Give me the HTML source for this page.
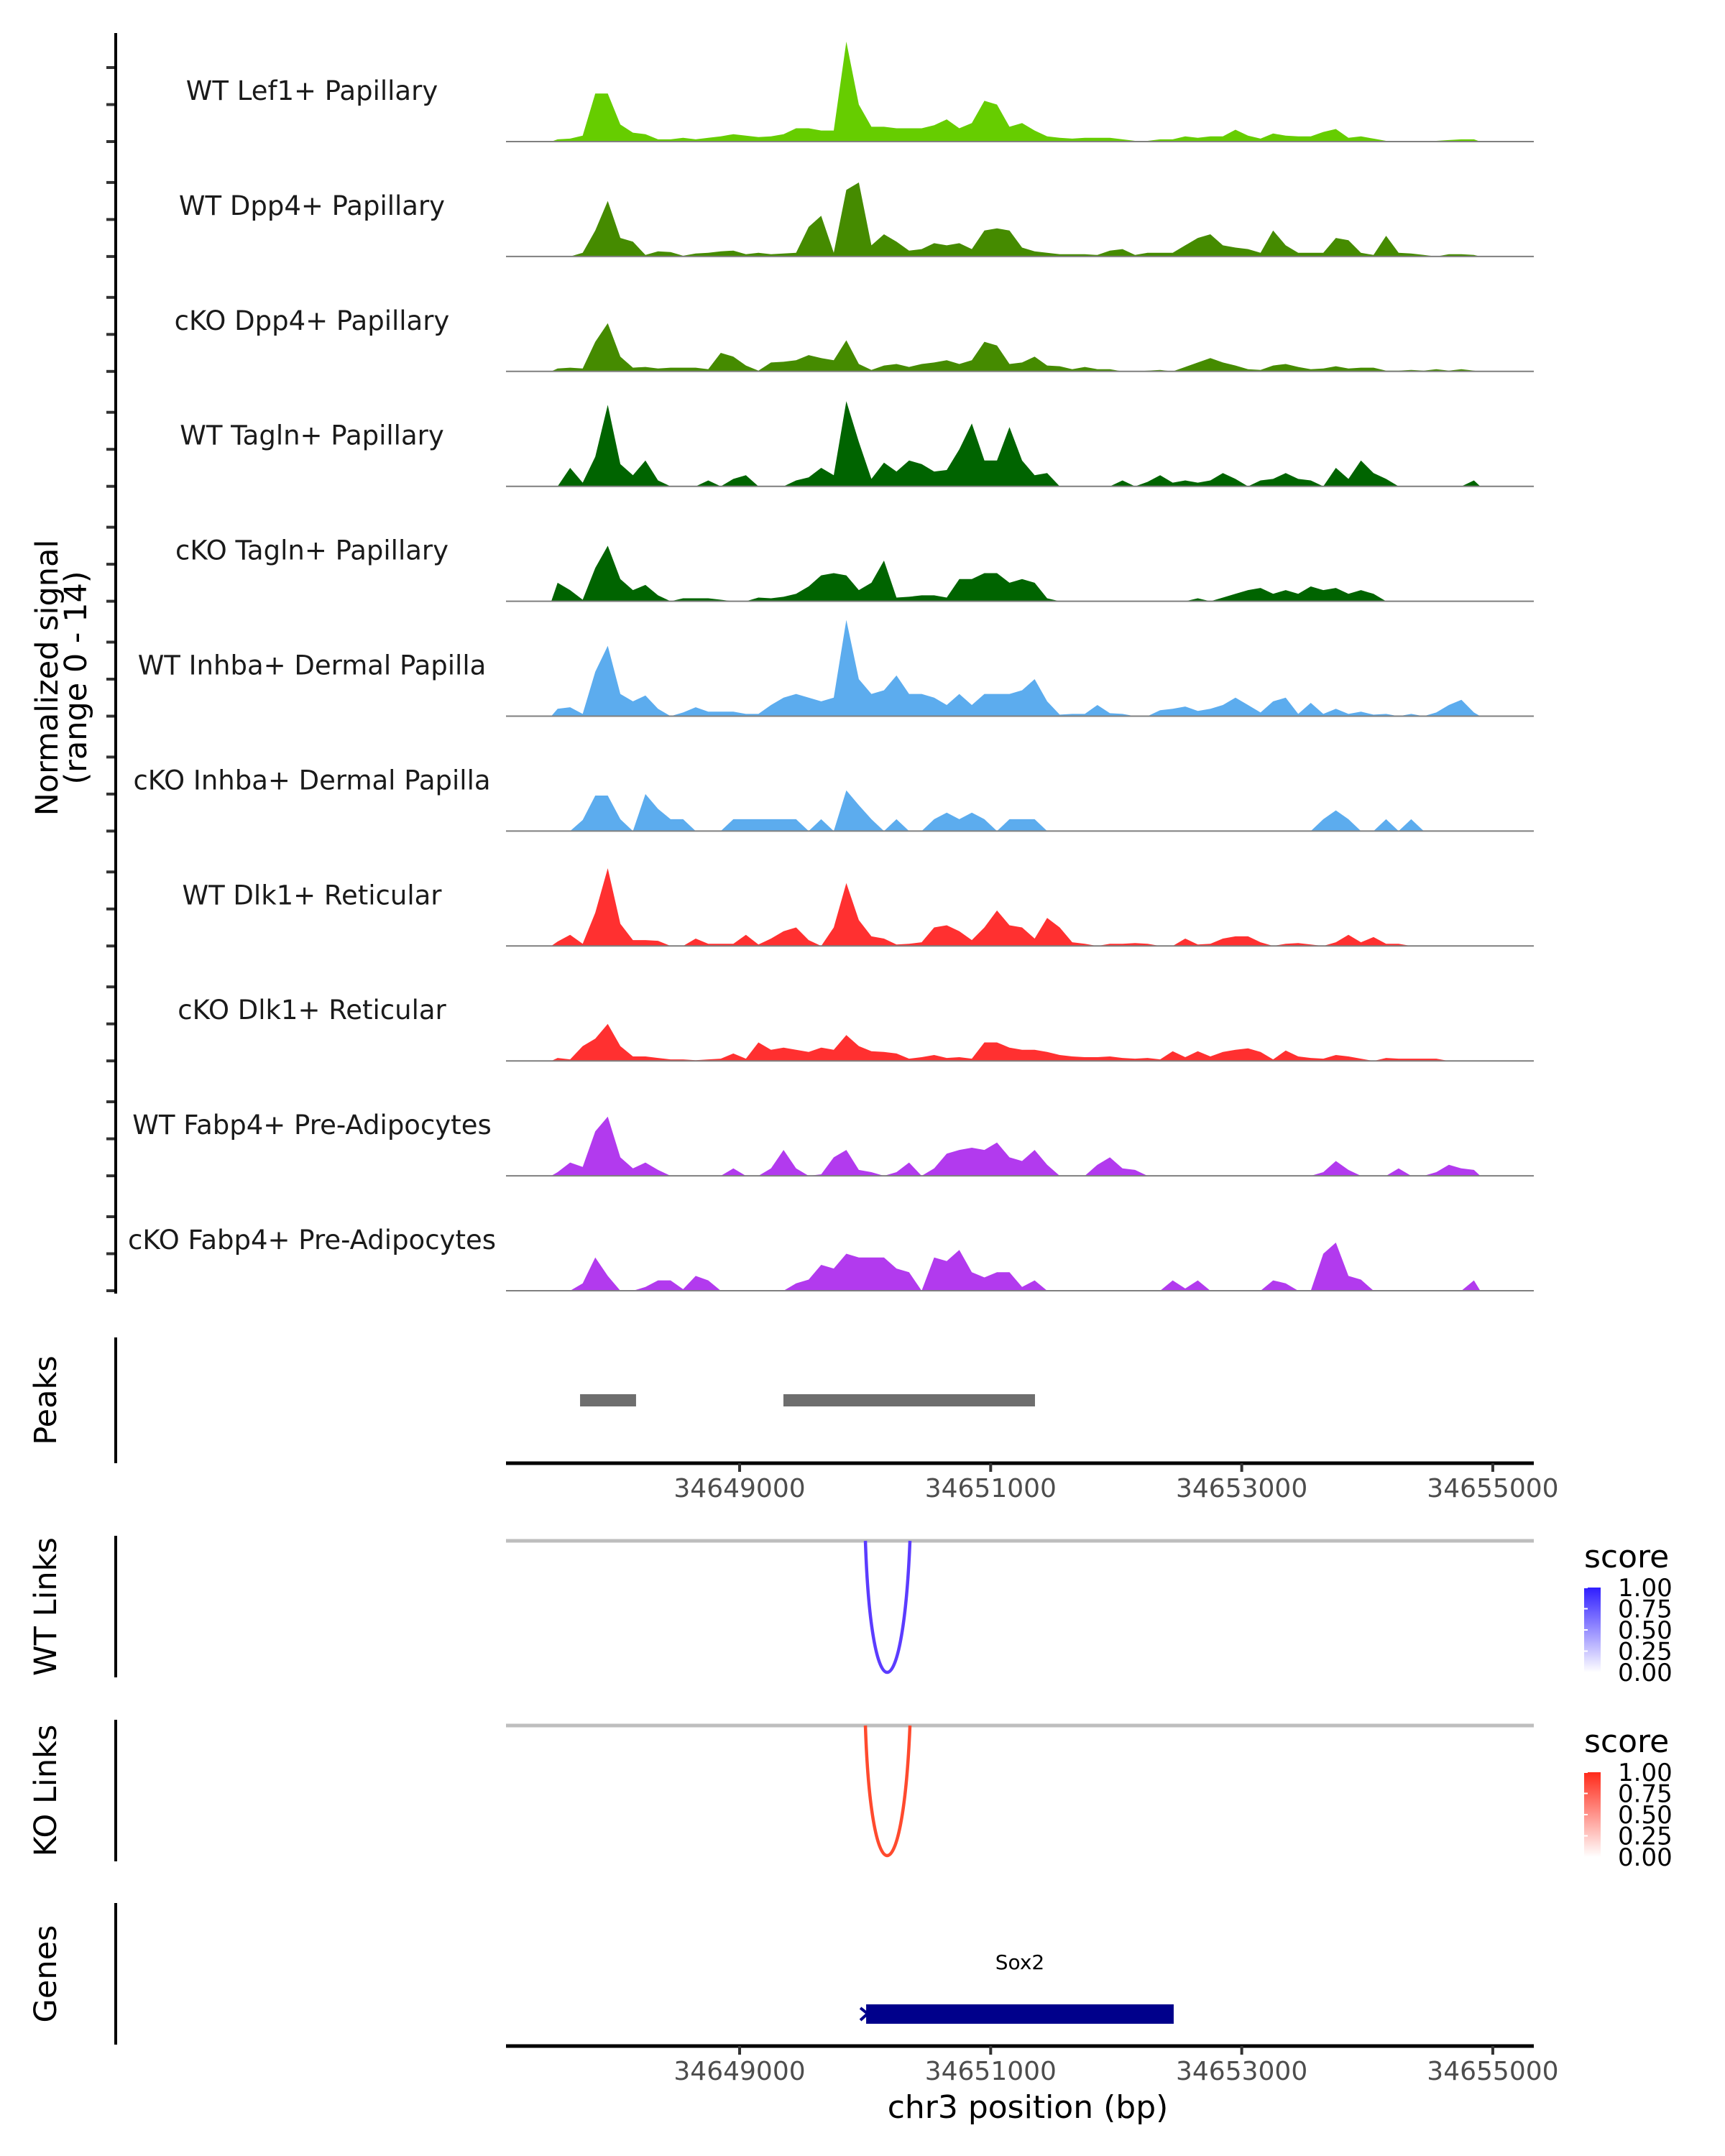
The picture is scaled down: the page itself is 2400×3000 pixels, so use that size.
<!DOCTYPE html>
<html><head><meta charset="utf-8"><title>Coverage tracks chr3 Sox2</title>
<style>
html,body{margin:0;padding:0;background:#fff;}
svg{display:block;font-family:"DejaVu Sans","Liberation Sans",sans-serif;}
</style></head>
<body>
<svg id="chart" width="2400" height="3000" viewBox="0 0 2400 3000" xmlns="http://www.w3.org/2000/svg">
<defs>
<linearGradient id="gradBlue" x1="0" y1="1" x2="0" y2="0"><stop offset="0" stop-color="#ffffff"/><stop offset="1" stop-color="#2f1eff"/></linearGradient>
<linearGradient id="gradRed" x1="0" y1="1" x2="0" y2="0"><stop offset="0" stop-color="#ffffff"/><stop offset="1" stop-color="#ff2a1a"/></linearGradient>
</defs>
<g id="root"></g>
</svg>
<script>
// ---- data ----
const trackNames = ["WT Lef1+ Papillary","WT Dpp4+ Papillary","cKO Dpp4+ Papillary","WT Tagln+ Papillary","cKO Tagln+ Papillary","WT Inhba+ Dermal Papilla","cKO Inhba+ Dermal Papilla","WT Dlk1+ Reticular","cKO Dlk1+ Reticular","WT Fabp4+ Pre-Adipocytes","cKO Fabp4+ Pre-Adipocytes"];
const trackColors = ["#66cd00","#458b00","#458b00","#006400","#006400","#5cacee","#5cacee","#ff3030","#ff3030","#b23aee","#b23aee"];
const binStart = 34647500;
const binWidth = 100;
const sigLef1WT = [0.3,0.4,0.8,6.5,6.5,2.3,1.2,1.0,0.3,0.3,0.5,0.3,0.5,0.7,1.0,0.8,0.6,0.7,1.0,1.8,1.8,1.5,1.5,13.5,5.0,2.0,2.0,1.8,1.8,1.8,2.2,3.0,1.8,2.5,5.5,5.0,2.0,2.5,1.5,0.7,0.5,0.4,0.5,0.5,0.5,0.3,0.1,0.1,0.3,0.3,0.7,0.5,0.7,0.7,1.6,0.8,0.4,1.1,0.8,0.7,0.7,1.3,1.7,0.5,0.7,0.4,0.1,0.1,0.1,0.1,0.1,0.2,0.3,0.3];
const sigDpp4WT = [0,0,0.5,3.5,7.5,2.5,2.0,0.2,0.7,0.6,0.1,0.4,0.5,0.7,0.8,0.3,0.5,0.3,0.4,0.5,4.0,5.5,0.5,9.0,10.0,1.5,3.0,2.0,0.8,1.0,1.8,1.5,1.8,1.0,3.5,3.8,3.5,1.2,0.7,0.5,0.3,0.3,0.3,0.2,0.8,1.0,0.2,0.5,0.5,0.5,1.5,2.5,3.0,1.5,1.2,1.0,0.5,3.5,1.5,0.5,0.5,0.5,2.5,2.2,0.5,0.2,2.8,0.5,0.4,0.2,0,0.3,0.3,0.2];
const sigDpp4KO = [0.4,0.5,0.4,4.0,6.5,2.0,0.5,0.6,0.4,0.5,0.5,0.5,0.3,2.5,2.0,0.8,0.1,1.2,1.3,1.5,2.2,1.8,1.5,4.2,1.0,0.2,0.8,1.0,0.6,1.0,1.2,1.5,1.0,1.5,4.0,3.5,1.0,1.2,2.0,0.8,0.7,0.3,0.6,0.3,0.3,0,0,0.1,0.2,0,0.6,1.2,1.8,1.2,0.8,0.3,0.2,0.8,1.0,0.6,0.3,0.4,0.7,0.4,0.5,0.5,0.1,0.1,0.2,0.1,0.3,0.1,0.3,0.1];
const sigTaglnWT = [0,2.5,0.5,4.0,11.0,3.0,1.5,3.5,0.8,0,0,0,0.8,0,1.0,1.5,0,0,0,0.8,1.2,2.5,1.5,11.5,6.0,1.0,3.2,2.0,3.5,3.0,2.0,2.2,5.0,8.5,3.5,3.5,8.0,3.5,1.5,1.8,0,0,0,0,0,0.8,0,0.6,1.5,0.5,0.8,0.5,0.8,1.8,1.0,0,0.8,1.0,1.8,1.0,0.8,0,2.5,1.0,3.5,1.8,1.0,0,0,0,0,0,0,0.8];
const sigTaglnKO = [2.5,1.5,0.2,4.5,7.5,3.0,1.5,2.2,0.8,0,0.4,0.4,0.4,0.2,0,0,0.5,0.4,0.6,1.0,2.0,3.5,3.8,3.5,1.5,2.5,5.5,0.5,0.6,0.8,0.8,0.5,3.0,3.0,3.8,3.8,2.5,3.0,2.5,0.4,0,0,0,0,0,0,0,0,0,0,0,0.4,0,0.5,1.0,1.5,1.8,1.0,1.5,1.0,2.0,1.5,1.8,1.0,1.5,1.0,0,0,0,0,0,0,0,0];
const sigInhbaWT = [1.0,1.2,0.3,6.0,9.5,3.0,2.0,2.8,1.0,0,0.5,1.2,0.6,0.6,0.6,0.3,0.3,1.5,2.5,3.0,2.5,2.0,2.5,13.0,5.0,3.0,3.5,5.5,3.0,3.0,2.5,1.5,3.0,1.5,3.0,3.0,3.0,3.5,5.0,2.0,0.2,0.3,0.3,1.5,0.4,0.3,0,0,0.8,1.0,1.3,0.7,1.0,1.5,2.5,1.5,0.5,2.0,2.5,0.3,1.8,0.3,1.0,0.3,0.6,0.2,0.3,0,0.3,0,0.5,1.5,2.2,0.5];
const sigInhbaKO = [0,0,1.5,4.8,4.8,1.6,0,5.0,3.0,1.6,1.6,0,0,0,1.6,1.6,1.6,1.6,1.6,1.6,0,1.6,0,5.5,3.5,1.6,0,1.6,0,0,1.6,2.5,1.6,2.5,1.6,0,1.6,1.6,1.6,0,0,0,0,0,0,0,0,0,0,0,0,0,0,0,0,0,0,0,0,0,0,1.6,2.8,1.6,0,0,1.6,0,1.6,0,0,0,0,0];
const sigDlk1WT = [0.6,1.5,0.3,4.5,10.5,3.0,0.8,0.8,0.7,0,0,1.0,0.3,0.3,0.3,1.5,0.2,1.0,2.0,2.5,0.8,0,2.5,8.5,3.5,1.3,1.0,0.2,0.3,0.5,2.5,2.8,2.0,0.8,2.5,4.8,2.8,2.5,1.0,3.8,2.5,0.5,0.3,0,0.3,0.3,0.4,0.3,0,0,1.0,0.2,0.3,1.0,1.3,1.3,0.5,0,0.3,0.4,0.2,0,0.5,1.5,0.5,1.2,0.3,0.3,0,0,0,0,0,0];
const sigDlk1KO = [0.4,0.2,2.0,3.0,5.0,2.0,0.6,0.6,0.4,0.2,0.2,0.1,0.2,0.3,1.0,0.3,2.5,1.5,1.8,1.5,1.2,1.8,1.5,3.5,2.0,1.3,1.2,1.0,0.3,0.5,0.8,0.4,0.5,0.3,2.5,2.5,1.8,1.5,1.5,1.2,0.8,0.6,0.5,0.5,0.6,0.4,0.3,0.4,0.2,1.3,0.5,1.3,0.6,1.2,1.5,1.7,1.2,0.2,1.4,0.6,0.4,0.3,0.8,0.6,0.3,0,0.4,0.3,0.3,0.3,0.3,0,0,0];
const sigFabp4WT = [0.5,1.8,1.2,6.0,8.0,2.5,1.0,1.8,0.8,0,0,0,0,0,1.0,0,0,1.0,3.5,1.0,0,0.2,2.5,3.5,0.8,0.5,0,0.5,1.8,0,1.0,3.0,3.5,3.8,3.5,4.5,2.5,2.0,3.5,1.5,0,0,0,1.5,2.5,1.0,0.8,0,0,0,0,0,0,0,0,0,0,0,0,0,0,0.5,2.0,0.8,0,0,0,1.0,0,0,0.5,1.5,1.0,0.8];
const sigFabp4KO = [0,0,1.0,4.5,2.0,0,0,0.5,1.4,1.4,0.2,2.0,1.4,0,0,0,0,0,0,1.0,1.5,3.5,3.0,5.0,4.5,4.5,4.5,3.0,2.5,0,4.5,4.0,5.5,2.5,1.8,2.5,2.5,0.5,1.4,0,0,0,0,0,0,0,0,0,0,1.4,0.3,1.4,0,0,0,0,0,1.4,1.0,0,0,5.0,6.5,2.0,1.5,0,0,0,0,0,0,0,0,1.4];
const signals = [sigLef1WT,sigDpp4WT,sigDpp4KO,sigTaglnWT,sigTaglnKO,sigInhbaWT,sigInhbaKO,sigDlk1WT,sigDlk1KO,sigFabp4WT,sigFabp4KO];
const peakStarts = [34647729, 34649349];
const peakEnds = [34648175, 34651353];
const xTicks = [34649000, 34651000, 34653000, 34655000];
const geneStart = 34650008;
const geneEnd = 34652458;
const linkStart = 34650002;
const linkEnd = 34650357;
const legendTicks = ["1.00","0.75","0.50","0.25","0.00"];

// ---- scales ----
const X0 = 704, X1 = 2134, BP0 = 34647139, PXPERBP = 349.3/2000;
function xScale(bp){ return X0 + (bp - BP0) * PXPERBP; }
const BASE0 = 197, TRACKSTEP = 159.9, PXPERUNIT = 10.3;
function yScale(track, v){ return BASE0 + track*TRACKSTEP - v*PXPERUNIT; }

const NS = "http://www.w3.org/2000/svg";
const root = document.getElementById('root');
function mk(tag, attrs, parent){ const e=document.createElementNS(NS,tag); for(const k in attrs) e.setAttribute(k,attrs[k]); (parent||root).appendChild(e); return e; }

// ---- signal tracks ----
signals.forEach((vals, t) => {
  const g = mk('g', {});
  
  
  const base = yScale(t, 0);
  let d = 'M' + xScale(binStart).toFixed(1) + ',' + base.toFixed(1);
  vals.forEach((v, i) => {
    const cx = xScale(binStart + binWidth*(i+0.5));
    d += ' L' + cx.toFixed(1) + ',' + yScale(t, v).toFixed(1);
  });
  d += ' L' + xScale(binStart + binWidth*vals.length).toFixed(1) + ',' + base.toFixed(1) + ' Z';
  const area = mk('path', {d: d, fill: trackColors[t], stroke: 'none'}, g);
  
  
  const bl = mk('line', {x1: X0, x2: X1, y1: base, y2: base, stroke: '#7f7f7f', 'stroke-width': 2}, g);
  
  
  const lab = mk('text', {x: 434, y: base - 58, 'text-anchor': 'middle', 'font-size': 37, fill: '#1a1a1a'}, g);
  lab.textContent = trackNames[t];
  
  
  [0, 5, 10].forEach(v => {
    const tk = mk('line', {x1: 148, x2: 161, y1: yScale(t, v), y2: yScale(t, v), stroke: '#333', 'stroke-width': 4}, g);
    
    
  });
});
const yAxis = mk('line', {x1: 161, x2: 161, y1: 46, y2: 1800, stroke: '#000', 'stroke-width': 4});


const yTitle = mk('text', {transform: 'translate(80,943) rotate(-90)', 'text-anchor': 'middle', 'font-size': 43, fill: '#000'});


const ytl1 = mk('tspan', {x: 0, dy: 0}, yTitle); ytl1.textContent = 'Normalized signal';
const ytl2 = mk('tspan', {x: 0, dy: 40}, yTitle); ytl2.textContent = '(range 0 - 14)';

// ---- side panel labels/axes ----
const panels = [["Peaks",1861,2036],["WT Links",2137,2334],["KO Links",2393,2590],["Genes",2648,2845]];
panels.forEach(p => {
  const ln = mk('line', {x1: 161, x2: 161, y1: p[1], y2: p[2], stroke: '#000', 'stroke-width': 4});
  
  
  const cy = (p[1] + p[2]) / 2;
  const tx = mk('text', {transform: 'translate(78,' + cy + ') rotate(-90)', 'text-anchor': 'middle', 'font-size': 43, fill: '#000'});
  tx.textContent = p[0];
  
  
});

// ---- peaks ----
peakStarts.forEach((s, i) => {
  const r = mk('rect', {x: xScale(s), y: 1940, width: xScale(peakEnds[i]) - xScale(s), height: 17, fill: '#6e6e6e'});
  
  
});

// ---- x axes ----
function xAxis(y, name){
  const l = mk('line', {x1: X0, x2: X1, y1: y, y2: y, stroke: '#000', 'stroke-width': 5});
  
  
  xTicks.forEach(v => {
    const tk = mk('line', {x1: xScale(v), x2: xScale(v), y1: y, y2: y + 12, stroke: '#333', 'stroke-width': 4});
    
    
    const tl = mk('text', {x: xScale(v), y: y + 47, 'text-anchor': 'middle', 'font-size': 36, fill: '#4d4d4d'});
    tl.textContent = String(v);
    
    
  });
}
xAxis(2036, 'peaks-x-axis');
xAxis(2847, 'x-axis');
const xTitle = mk('text', {x: 1430, y: 2947, 'text-anchor': 'middle', 'font-size': 44, fill: '#000'});
xTitle.textContent = 'chr3 position (bp)';



// ---- links ----
function linkPanel(top, bottom, color, grad, name){
  const gl = mk('line', {x1: X0, x2: X1, y1: top, y2: top, stroke: '#bebebe', 'stroke-width': 5});
  
  
  const xa = xScale(linkStart), xb = xScale(linkEnd);
  const c = (bottom - 0.25*top) / 0.75;
  const arc = mk('path', {d: 'M' + xa + ',' + top + ' C' + (xa + (xb-xa)*0.13) + ',' + c + ' ' + (xb - (xb-xa)*0.16) + ',' + c + ' ' + xb + ',' + top, fill: 'none', stroke: color, 'stroke-width': 4.5});
  
  
  const lt = top + 22;
  const st = mk('text', {x: 2204, y: lt + 15, 'font-size': 44, fill: '#000'});
  st.textContent = 'score';
  
  
  const by = lt + 43, bh = 118;
  const bar = mk('rect', {x: 2204, y: by, width: 23, height: bh, fill: 'url(#' + grad + ')'});
  
  
  legendTicks.forEach((t, i) => {
    const ty = by + i * bh / 4;
    const tl = mk('text', {x: 2251, y: ty + 12, 'font-size': 34, fill: '#000'});
    tl.textContent = t;
    
    
    const tm = mk('line', {x1: 2204, x2: 2209, y1: ty, y2: ty, stroke: '#fff', 'stroke-width': 2});
    
    
  });
}
linkPanel(2144, 2327, '#5b3cff', 'gradBlue', 'wt-links');
linkPanel(2401, 2582, '#ff4a2e', 'gradRed', 'ko-links');

// ---- gene ----
const gx0 = xScale(geneStart), gx1 = xScale(geneEnd);
const gene = mk('rect', {x: gx0, y: 2789, width: gx1 - gx0, height: 27, fill: '#00008b'});


const chev = mk('path', {d: 'M' + (gx0-8) + ',2794 L' + (gx0+2) + ',2802 L' + (gx0-8) + ',2811', fill: 'none', stroke: '#00008b', 'stroke-width': 4});


const gl = mk('text', {x: 1419, y: 2740, 'text-anchor': 'middle', 'font-size': 28, fill: '#000'});
gl.textContent = 'Sox2';


</script>
</body></html>
